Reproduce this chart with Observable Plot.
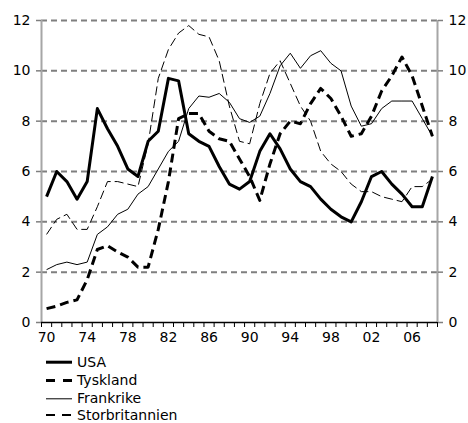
<!DOCTYPE html>
<html><head><meta charset="utf-8">
<script src="https://cdn.jsdelivr.net/npm/d3@7"></script>
<script src="https://cdn.jsdelivr.net/npm/@observablehq/plot@0.6"></script>
<style>
body{margin:0;background:#fff;font-family:"DejaVu Sans",Verdana,sans-serif}
#chart svg{display:block}
</style>
</head><body><div id="chart"></div>
<script>
const years = d3.range(1970, 2009);
const usa = [5.0,6.0,5.6,4.9,5.6,8.5,7.7,7.0,6.1,5.8,
             7.2,7.6,9.7,9.6,7.5,7.2,7.0,6.2,5.5,5.3,
             5.6,6.8,7.5,6.9,6.1,5.6,5.4,4.9,4.5,4.2,
             4.0,4.8,5.8,6.0,5.5,5.1,4.6,4.6,5.8];
const tyskland = [0.55,0.65,0.8,0.9,1.7,2.9,3.05,2.8,2.6,2.2,
                  2.2,3.7,5.6,8.1,8.3,8.3,7.6,7.3,7.2,6.5,
                  5.8,4.85,6.3,7.5,8.0,7.9,8.7,9.3,8.9,8.2,
                  7.4,7.5,8.2,9.2,9.8,10.55,9.8,8.6,7.4];
const frankrike = [2.1,2.3,2.4,2.3,2.4,3.5,3.8,4.3,4.5,5.1,
                   5.4,6.1,6.8,7.2,8.5,9.0,8.95,9.1,8.75,8.1,
                   7.95,8.2,9.1,10.2,10.7,10.1,10.6,10.8,10.3,10.0,
                   8.6,7.8,7.9,8.5,8.8,8.8,8.8,8.1,7.4];
const storbritannien = [3.5,4.1,4.3,3.7,3.7,4.6,5.6,5.6,5.5,5.4,
                        7.1,9.7,10.85,11.5,11.8,11.45,11.35,10.4,8.6,7.2,
                        7.1,8.7,9.9,10.4,9.5,8.6,8.0,6.8,6.3,6.0,
                        5.5,5.2,5.2,5.0,4.9,4.8,5.4,5.4,5.7];
const seriesNames = ["USA","Tyskland","Frankrike","Storbritannien"];
const yTicks = [0,2,4,6,8,10,12];
const xLabelYears = [1970,1974,1978,1982,1986,1990,1994,1998,2002,2006];

const valuesByName = {USA: usa, Tyskland: tyskland, Frankrike: frankrike, Storbritannien: storbritannien};
const rows = seriesNames.flatMap(name => years.map((year, i) => ({series: name, year, value: valuesByName[name][i]})));
const boundaries = d3.range(1969.5, 2009, 1);

const styleOf = {
  USA: {strokeWidth: 3},
  Tyskland: {strokeWidth: 3, strokeDasharray: "9,5"},
  Frankrike: {strokeWidth: 1},
  Storbritannien: {strokeWidth: 1, strokeDasharray: "9,4"}
};
const drawOrder = ["Storbritannien","Frankrike","Tyskland","USA"];

const plot = Plot.plot({
  width: 468, height: 348,
  marginTop: 20, marginLeft: 41, marginRight: 31, marginBottom: 26,
  style: {fontFamily: '"DejaVu Sans", Verdana, sans-serif', fontSize: "14px", color: "#000", background: "#fff"},
  x: {domain: [1969.5, 2008.5]},
  y: {domain: [0, 12]},
  marks: [
    Plot.ruleY(yTicks.filter(d => d > 0), {stroke: "#7f7f7f", strokeWidth: 2, strokeDasharray: "6,4"}),
    Plot.ruleX([1969.5, 2008.5], {stroke: "#a6a6a6", strokeWidth: 2}),
    Plot.axisY({anchor: "left", ticks: yTicks, tickSize: 5, tickPadding: 6, stroke: "#7f7f7f", strokeWidth: 1.5, label: null}),
    Plot.axisY({anchor: "right", ticks: yTicks, tickSize: 5, tickPadding: 6, stroke: "#7f7f7f", strokeWidth: 1.5, label: null}),
    Plot.axisX({ticks: boundaries, tickSize: 5, tickFormat: () => "", label: null}),
    Plot.axisX({ticks: xLabelYears, tickSize: 0, tickPadding: 10, tickFormat: d => String(d).slice(2), label: null}),
    Plot.ruleY([0], {stroke: "#000", strokeWidth: 1.5}),
    ...drawOrder.map(name => Plot.line(rows.filter(r => r.series === name), {
      x: "year", y: "value", stroke: "#000",
      strokeLinejoin: "round", strokeLinecap: "butt",
      ...styleOf[name]
    }))
  ]
});
document.getElementById("chart").appendChild(plot);

// legend below the plot
const legendRowY = [13.7, 32, 50.3, 66.5];
const legend = d3.select("#chart").append("svg")
  .attr("width", 468).attr("height", 75)
  .style("font-family", '"DejaVu Sans", Verdana, sans-serif')
  .style("font-size", "14px");
const legendSwatch = {
  USA: {w: 3, d: null},
  Tyskland: {w: 3, d: "9,8"},
  Frankrike: {w: 1, d: null},
  Storbritannien: {w: 2, d: "9,7"}
};
seriesNames.forEach((name, i) => {
  const g = legend.append("g").attr("transform", `translate(0,${legendRowY[i]})`);
  g.append("line").attr("x1", 46).attr("x2", 72).attr("y1", 0.5).attr("y2", 0.5)
    .attr("stroke", "#000").attr("stroke-width", legendSwatch[name].w)
    .attr("stroke-dasharray", legendSwatch[name].d);
  g.append("text").attr("x", 77).attr("y", 0).attr("dy", "0.36em").attr("fill", "#000").text(name);
});
</script>
</body></html>
